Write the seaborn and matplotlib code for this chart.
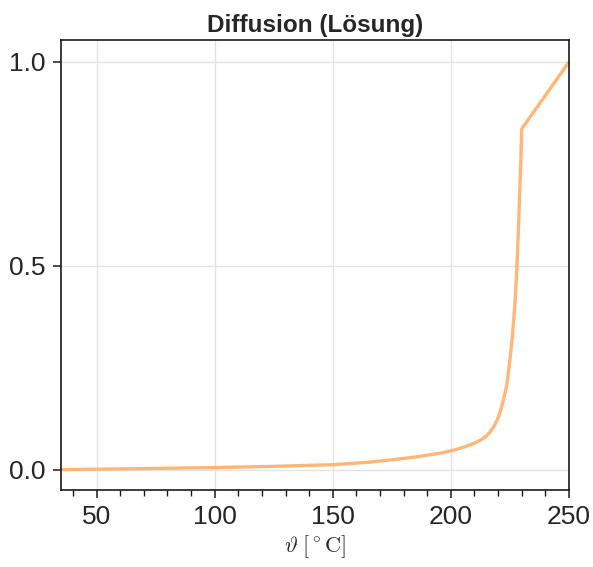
import matplotlib
matplotlib.use("Agg")
import matplotlib.pyplot as plt
import seaborn as sns
import pandas as pd
from matplotlib.ticker import MultipleLocator

# Temperature (°C) and normalised diffusion solution values
temperature = [35, 50, 75, 100, 125, 150, 165, 175, 185, 192, 197, 202, 206,
               210, 213, 215, 217, 218.2, 219.3, 220.3, 221.3, 222.3, 223.6,
               224.5, 225.3, 226.0, 226.6, 227.1, 227.5, 227.9, 228.3, 228.7,
               229.1, 229.6, 230, 250]
solution = [0.000, 0.001, 0.003, 0.005, 0.008, 0.012, 0.018, 0.024, 0.031,
            0.037, 0.042, 0.049, 0.056, 0.065, 0.074, 0.082, 0.095, 0.106,
            0.118, 0.131, 0.150, 0.172, 0.205, 0.245, 0.286, 0.325, 0.368,
            0.405, 0.445, 0.490, 0.545, 0.605, 0.675, 0.755, 0.836, 1.000]

x_ticks = [50, 100, 150, 200, 250]
y_ticks = [0.0, 0.5, 1.0]
y_tick_labels = ["0.0", "0.5", "1.0"]

df = pd.DataFrame({"T": temperature, "D": solution})

sns.set_theme(style="white")
plt.rcParams["font.family"] = ["Liberation Sans", "DejaVu Sans"]
plt.rcParams["mathtext.fontset"] = "cm"

fig = plt.figure(figsize=(5.93, 5.67), dpi=100)
ax = fig.add_axes([0.103, 0.1358, 0.8565, 0.7937])

sns.lineplot(data=df, x="T", y="D", ax=ax, color="#ffb677", linewidth=2.4,
             sort=False)

ax.set_xlim(35, 250)
ax.set_ylim(-0.05, 1.054)
ax.set_xticks(x_ticks)
ax.set_yticks(y_ticks)
ax.set_yticklabels(y_tick_labels)
ax.xaxis.set_minor_locator(MultipleLocator(10))

ax.grid(True, which="major", color="#e3e3e3", linewidth=1.0)
for s in ax.spines.values():
    s.set_visible(True)
    s.set_color("#1a1a1a")
    s.set_linewidth(1.2)

ax.tick_params(axis="both", which="major", direction="out", length=6,
               width=1.1, color="#1a1a1a", labelsize=19, pad=5,
               bottom=True, left=True)
ax.tick_params(axis="x", which="minor", direction="out", length=4,
               width=1.0, color="#1a1a1a", bottom=True)

ax.set_xlabel(r"$\vartheta\;[^\circ\mathrm{C}]$", fontsize=16, labelpad=3)
ax.set_ylabel("")
ax.set_title("Diffusion (Lösung)", fontsize=17.5, fontweight="bold", pad=6)

fig.savefig("out.png", dpi=100)
